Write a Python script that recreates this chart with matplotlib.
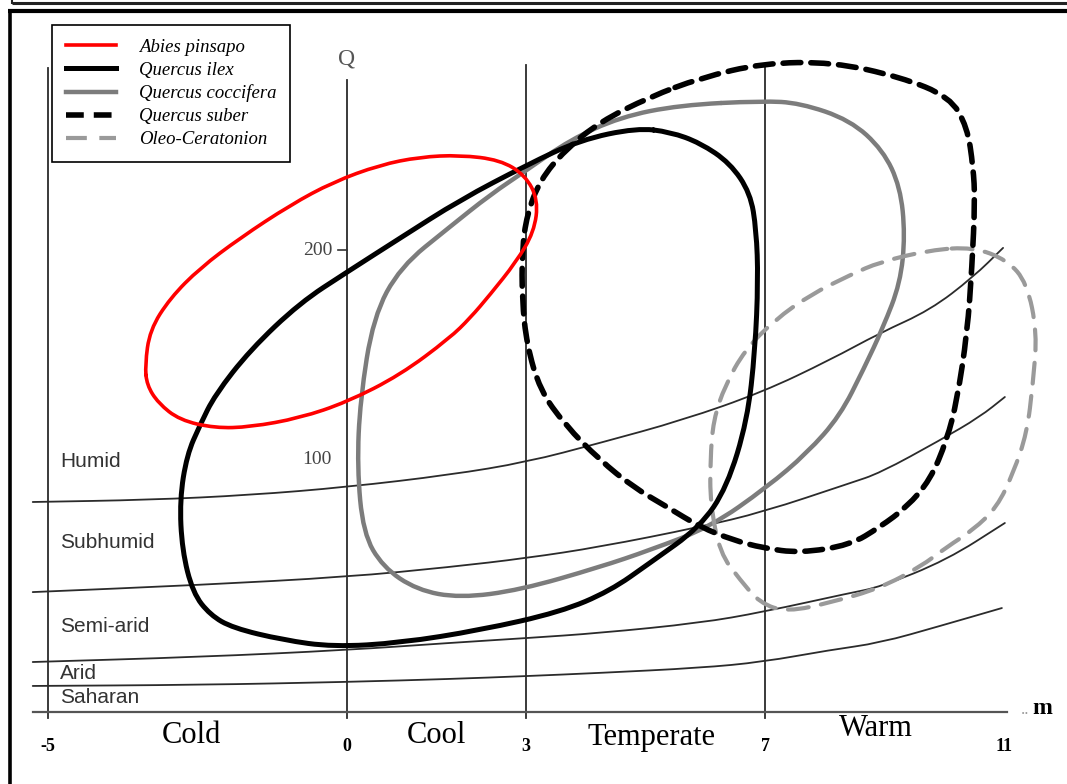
import matplotlib.pyplot as plt
from matplotlib.lines import Line2D
from matplotlib.path import Path
from matplotlib.patches import PathPatch

# Emberger climagram: m (mean minimum of the coldest month, deg C) against Q2
m_ticks = [-5, 0, 3, 7, 11]
q_ticks = [100, 200]
temp_classes = ['Cold', 'Cool', 'Temperate', 'Warm']
temp_label_m = [-2.6, 1.5, 5.1, 8.85]
temp_label_q = [-31.0, -31.0, -32.0, -28.0]
zone_names = ['Humid', 'Subhumid', 'Semi-arid', 'Arid', 'Saharan']
zone_label_q = [99.5, 60.5, 20.5, -1.8, -13.0]

# bioclimatic zone limits (m, Q)
lim_m1 = [-5.26, -3.30, -1.62, 0, 1.72, 3.01, 4.23, 5.62, 6.96, 8.08, 8.92, 9.76, 10.48, 10.98]
lim_q1 = [80.0, 81.0, 83.3, 87.1, 92.9, 99.0, 108.1, 119.0, 132.4, 147.6, 160.5, 171.4, 187.1, 201.0]
lim_m2 = [-5.26, -2.46, 0, 1.72, 3.01, 4.23, 5.91, 6.96, 8.42, 8.92, 9.93, 10.59, 11.01]
lim_q2 = [37.1, 40.5, 44.3, 49.0, 53.3, 58.6, 68.1, 75.2, 89.0, 93.8, 109.5, 120.5, 130.0]
lim_m3 = [-5.26, -2.46, 0, 1.72, 3.01, 4.23, 5.91, 6.96, 8.42, 8.92, 10.04, 11.01]
lim_q3 = [3.8, 6.2, 9.5, 12.9, 15.2, 17.6, 22.4, 27.6, 36.7, 39.5, 52.4, 70.0]
lim_m4 = [-5.26, -2.46, 0, 1.72, 3.01, 4.23, 5.91, 6.95, 8.08, 8.92, 9.93, 10.96]
lim_q4 = [-7.6, -7.1, -5.7, -4.3, -2.9, -1.4, 1.0, 3.8, 9.5, 12.9, 21.0, 29.5]
base_m = [-5.26, 11.05]
base_q = [-20.0, -20.0]
vline_top = [286.7, 281.0, 288.0, 288.0, None]

# species envelopes (m, Q)
abies_m = [-3.38, -3.30, -2.96, -2.46, -1.79, -0.95, -0.23, 0.55, 1.22, 1.89, 2.56, 2.98,
           3.20, 3.13, 2.83, 2.39, 2.06, 1.72, 0.89, 0, -0.79, -1.62, -2.21, -2.80, -3.16, -3.35]
abies_q = [145.2, 161.9, 177.1, 191.4, 205.7, 221.4, 232.4, 240.5, 244.3, 245.2, 242.9, 235.7,
           223.8, 208.6, 194.3, 178.6, 167.6, 158.1, 140.5, 127.6, 120.0, 115.7, 115.2, 119.0, 127.1, 135.7]

ilex_m = [4.85, 3.90, 3.01, 1.89, 0.89, 0, -0.79, -1.62, -2.21, -2.46, -2.68, -2.80, -2.76,
          -2.58, -2.29, -1.91, -1.07, -0.23, 0.89, 2.23, 3.57, 4.40, 5.07, 5.91, 6.36, 6.70,
          6.83, 6.88, 6.85, 6.75, 6.41, 5.91, 5.41]
ilex_q = [258.1, 252.4, 240.5, 223.8, 205.7, 189.5, 174.8, 152.4, 131.0, 116.7, 102.4, 81.0, 57.1,
          36.7, 26.2, 20.0, 14.3, 11.0, 12.9, 19.0, 27.6, 37.6, 51.0, 68.1, 87.1, 119.0,
          152.4, 185.7, 209.5, 227.1, 241.4, 251.0, 256.2]

cocc_m = [6.95, 7.58, 8.42, 8.97, 9.26, 9.34, 9.26, 8.97, 8.65, 8.25, 7.70, 7.03, 6.08, 5.07,
          4.23, 2.90, 1.89, 1.17, 0.60, 0.27, 0.17, 0.22, 0.44, 0.89, 1.72, 2.39, 3.01, 3.73,
          4.57, 5.57]
cocc_q = [271.0, 270.0, 261.9, 247.6, 230.0, 207.1, 184.3, 163.0, 143.5, 121.0, 103.3, 87.1, 68.1,
          57.1, 49.0, 38.1, 34.3, 38.1, 49.0, 65.2, 96.7, 128.6, 168.1, 191.9, 211.0, 226.2,
          238.1, 252.4, 263.3, 269.0]

suber_m = [5.91, 6.96, 8.13, 9.26, 10.09, 10.38, 10.48, 10.51, 10.46, 10.38, 10.21, 10.04, 9.76,
           9.37, 8.92, 8.42, 7.58, 6.96, 6.46, 5.91, 5.36, 4.79, 4.23, 3.65, 3.23, 3.01, 2.93,
           2.93, 3.01, 3.23, 3.65, 4.23, 5.07]
suber_q = [281.9, 289.0, 289.5, 282.4, 272.9, 258.6, 239.5, 223.8, 191.9, 160.5, 128.6, 109.5, 90.5,
           77.6, 68.1, 59.5, 55.7, 58.1, 61.9, 68.1, 77.6, 87.1, 100.0, 116.7, 133.3, 154.8, 176.2,
           200.0, 216.7, 233.3, 247.6, 261.0, 272.9]

oleo_m = [10.48, 11.05, 11.38, 11.55, 11.48, 11.38, 11.15, 10.88, 10.48, 10.04, 9.59, 8.92, 8.13,
          7.36, 6.91, 6.58, 6.24, 6.08, 6.08, 6.13, 6.33, 6.66, 7.16, 7.75, 8.42, 8.92, 9.76]
oleo_q = [201.4, 195.2, 184.3, 160.5, 136.7, 112.9, 93.8, 77.6, 66.7, 58.6, 49.0, 39.0, 32.4,
          27.6, 31.9, 42.9, 55.7, 79.5, 100.0, 119.0, 135.7, 152.4, 166.7, 178.6, 188.1, 194.3, 200.0]


def smooth_path(xs, ys, loop):
    # quadratic Bezier through the midpoints, read points used as control points
    pts = list(zip(xs, ys))
    n = len(pts)
    mids = [((pts[i][0] + pts[(i + 1) % n][0]) / 2, (pts[i][1] + pts[(i + 1) % n][1]) / 2)
            for i in range(n)]
    if loop:
        verts, codes = [mids[-1]], [Path.MOVETO]
        for i in range(n):
            verts += [pts[i], mids[i]]
            codes += [Path.CURVE3, Path.CURVE3]
    else:
        verts, codes = [pts[0], mids[0]], [Path.MOVETO, Path.LINETO]
        for i in range(1, n - 1):
            verts += [pts[i], mids[i]]
            codes += [Path.CURVE3, Path.CURVE3]
        verts.append(pts[-1])
        codes.append(Path.LINETO)
    return Path(verts, codes)


def draw_curve(xs, ys, loop=True, **kw):
    patch = PathPatch(smooth_path(xs, ys, loop), fill=False, capstyle='round',
                      joinstyle='round', **kw)
    ax.add_patch(patch)
    return patch


fig = plt.figure(figsize=(10.67, 7.84), dpi=100)
ax = fig.add_axes([0, 0, 1, 1])
ax.set_xlim(-5.808, 12.05)
ax.set_ylim(-54.29, 319.05)
ax.axis('off')

W, H = 1067, 784


def frame_line(xs, ys, lw, color='black'):
    fig.add_artist(Line2D([x / W for x in xs], [1 - y / H for y in ys],
                          transform=fig.transFigure, lw=lw, color=color,
                          solid_capstyle='butt'))


# page frame
frame_line([12, 1067], [2.5, 2.5], 2.2, '#222222')
frame_line([12, 12], [0, 3.5], 1.5, '#222222')
frame_line([8, 1067], [10.5, 10.5], 3.0)
frame_line([9.5, 9.5], [9, 784], 2.6)

grid_col = '#2b2b2b'
for mt, top in zip(m_ticks, vline_top):
    if top is not None:
        ax.plot([mt, mt], [-22.9, top], color=grid_col, lw=1.3, zorder=1)

for xs, ys in [(lim_m1, lim_q1), (lim_m2, lim_q2), (lim_m3, lim_q3), (lim_m4, lim_q4)]:
    draw_curve(xs, ys, loop=False, edgecolor=grid_col, lw=1.3, zorder=1)
ax.plot(base_m, base_q, color='#555555', lw=1.6, zorder=1)

# Q scale
ax.plot([-0.15, 0], [q_ticks[1], q_ticks[1]], color='#333333', lw=1.2)
for qt in q_ticks:
    ax.text(-0.25, qt, str(qt), ha='right', va='center', fontsize=14,
            family='Liberation Serif', color='#444444')
ax.text(0, 291, 'Q', ha='center', va='center', fontsize=17,
        family='Liberation Serif', color='#555555')

for name, q in zip(zone_names, zone_label_q):
    ax.text(-4.80, q, name, ha='left', va='center', fontsize=15,
            family='Liberation Sans', color='#333333')

for mt in m_ticks:
    ax.text(mt, -36.5, str(mt), ha='center', va='center', fontsize=13,
            family='Liberation Serif', fontweight='bold', color='black')
for name, xm, yq in zip(temp_classes, temp_label_m, temp_label_q):
    ax.text(xm, yq, name, ha='center', va='center', fontsize=22,
            family='Liberation Serif', color='black')
ax.text(11.35, -19, '..', ha='center', va='center', fontsize=12,
        family='Liberation Serif', color='#999999')
ax.text(11.64, -18.5, 'm', ha='center', va='center', fontsize=17,
        family='Liberation Serif', fontweight='bold', color='black')

# species envelopes
styles = [
    ('Abies pinsapo', abies_m, abies_q, dict(color='#ff0000', lw=2.6, zorder=5, ls='-')),
    ('Quercus ilex', ilex_m, ilex_q, dict(color='black', lw=3.6, zorder=4, ls='-')),
    ('Quercus coccifera', cocc_m, cocc_q, dict(color='#7c7c7c', lw=3.2, zorder=3, ls='-')),
    ('Quercus suber', suber_m, suber_q,
     dict(color='black', lw=4.0, zorder=4, ls=(0, (3.2, 1.8)))),
    ('Oleo-Ceratonion', oleo_m, oleo_q,
     dict(color='#9a9a9a', lw=3.0, zorder=3, ls=(0, (5.0, 3.0)))),
]
handles = []
for label, xs, ys, st in styles:
    draw_curve(xs, ys, edgecolor=st['color'], lw=st['lw'], zorder=st['zorder'],
               linestyle=st['ls'])
    h, = ax.plot([], [], color=st['color'], lw=st['lw'], ls=st['ls'], label=label)
    handles.append(h)

leg = ax.legend(handles=handles, loc='upper left',
                bbox_to_anchor=(52 / W, 1 - 25 / H), borderaxespad=0,
                fancybox=False, edgecolor='black', framealpha=1,
                prop={'family': 'Liberation Serif', 'style': 'italic', 'size': 13.5},
                handlelength=2.7, handletextpad=1.2, labelspacing=0.31,
                borderpad=0.72)
leg.get_frame().set_linewidth(1.2)

fig.savefig('out.png', dpi=100)
